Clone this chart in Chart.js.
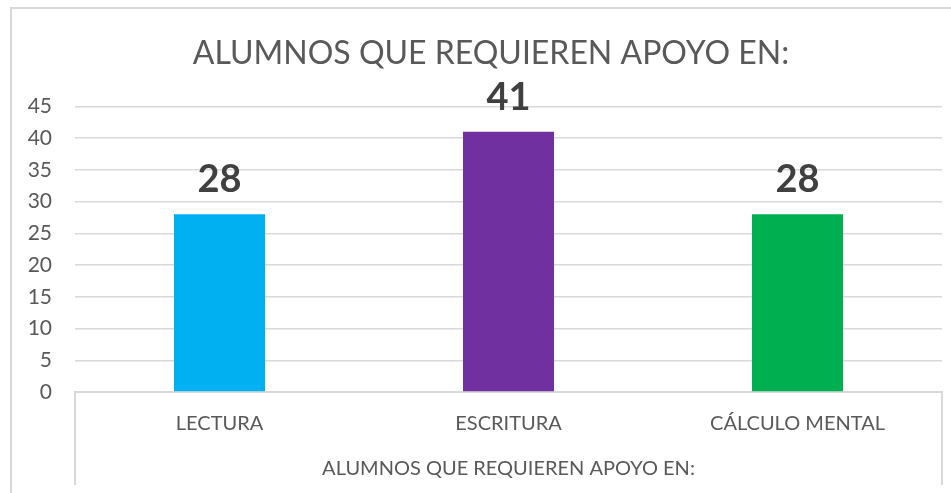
<!DOCTYPE html>
<html>
<head>
<meta charset="utf-8">
<script src="https://cdn.jsdelivr.net/npm/chart.js@4.4.1/dist/chart.umd.min.js"></script>
<style>
    html, body { margin: 0; padding: 0; background: #fff; overflow: hidden; width: 951px; height: 493px; }
    #frame { position: absolute; left: 10px; top: 7px; width: 1000px; height: 600px;
             border-left: 2px solid #d9d9d9; border-top: 2px solid #d9d9d9; }
    #wrap { position: absolute; left: 0; top: 0; width: 980px; height: 493px; }
</style>
</head>
<body>
<div id="frame"></div>
<div id="wrap"><canvas id="graph"></canvas></div>
<script>
// --- datos del gráfico
var titulo = 'ALUMNOS QUE REQUIEREN APOYO EN:';
var categorias = ['LECTURA', 'ESCRITURA', 'CÁLCULO MENTAL'];
var alumnos = [28, 41, 28];
var colores = ['#00B0F0', '#7030A0', '#00B050'];
var ejeY = { min: 0, max: 45, paso: 5 };

var gris = '#595959';
var linea = '#d9d9d9';

// etiquetas de valor encima de cada barra
var etiquetas = {
    id: 'etiquetas',
    afterDatasetsDraw: function (chart) {
        var ctx = chart.ctx;
        var meta = chart.getDatasetMeta(0);
        ctx.save();
        ctx.font = 'bold 38px Lato';
        ctx.fillStyle = '#404040';
        ctx.textAlign = 'center';
        ctx.textBaseline = 'alphabetic';
        meta.data.forEach(function (bar, i) {
            ctx.fillText(String(alumnos[i]), bar.x, bar.y - 22);
        });
        ctx.restore();
    }
};

// lineas verticales del eje de categorias (nivel de grupo)
var bordesGrupo = {
    id: 'bordesGrupo',
    afterDraw: function (chart) {
        var a = chart.chartArea;
        var ctx = chart.ctx;
        ctx.save();
        ctx.strokeStyle = linea;
        ctx.lineWidth = 2;
        ctx.beginPath();
        ctx.moveTo(a.left, a.bottom);
        ctx.lineTo(a.left, 485);
        ctx.moveTo(a.right, a.bottom);
        ctx.lineTo(a.right, 485);
        ctx.stroke();
        ctx.restore();
    }
};

new Chart(document.getElementById('graph'), {
    type: 'bar',
    data: {
        labels: categorias,
        datasets: [{
            label: titulo,
            data: alumnos,
            backgroundColor: colores,
            categoryPercentage: 1,
            barPercentage: 0.315
        }]
    },
    options: {
        responsive: true,
        maintainAspectRatio: false,
        animation: false,
        layout: { padding: { left: 11, right: 9, top: 0, bottom: 0 } },
        plugins: {
            legend: { display: false },
            tooltip: { enabled: false },
            title: {
                display: true,
                text: titulo,
                color: gris,
                font: { family: 'Lato', size: 32, weight: 'normal', lineHeight: 1.2 },
                padding: { top: 34, bottom: 34 }
            }
        },
        scales: {
            x: {
                grid: { display: false },
                border: { display: true, color: linea, width: 2 },
                ticks: { color: gris, font: { family: 'Lato', size: 20 }, padding: 12 },
                title: {
                    display: true,
                    text: titulo,
                    color: gris,
                    font: { family: 'Lato', size: 20 },
                    padding: { top: 0, bottom: 12 }
                },
                afterFit: function (s) { s.height = 101; }
            },
            y: {
                min: ejeY.min,
                max: ejeY.max,
                ticks: { stepSize: ejeY.paso, color: gris, font: { family: 'Lato', size: 21 }, padding: 23 },
                grid: { color: linea, lineWidth: 1.5, drawTicks: false },
                border: { display: false },
                afterFit: function (s) { s.width = 64; }
            },
            // margen derecho del area del grafico (sin marcas)
            y2: {
                position: 'right',
                min: ejeY.min,
                max: ejeY.max,
                ticks: { display: false },
                grid: { display: false },
                border: { display: false },
                afterFit: function (s) { s.width = 29; }
            }
        }
    },
    plugins: [etiquetas, bordesGrupo]
});
</script>
</body>
</html>
